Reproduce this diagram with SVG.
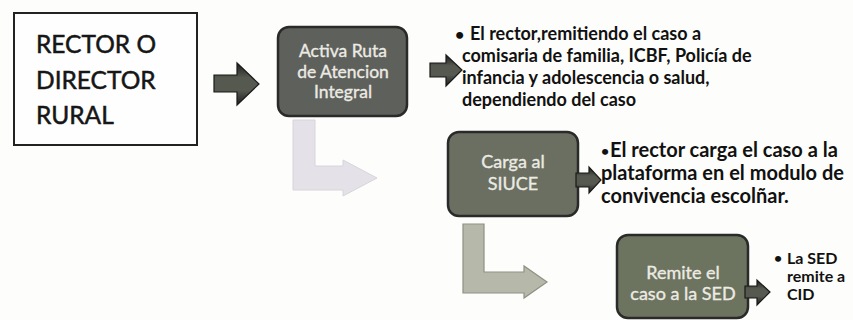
<svg xmlns="http://www.w3.org/2000/svg" width="853" height="320" viewBox="0 0 853 320">
<defs>
<style>
.t{font-family:Lato,"Liberation Sans",sans-serif;}
.big{font-size:24.5px;fill:#161616;stroke:#161616;stroke-width:0.5;}
.nodeT{font-size:17.5px;fill:#ecebe4;stroke:#ecebe4;stroke-width:0.35;text-anchor:middle;}
.bul{font-weight:bold;fill:#111;}
.dark{fill:url(#ag);stroke:#1a1a1a;stroke-width:1.2;stroke-linejoin:miter;}
</style>
<linearGradient id="ag" x1="0" y1="0" x2="0" y2="1">
<stop offset="0" stop-color="#1e1e1e"/>
<stop offset="0.35" stop-color="#55594f"/>
<stop offset="0.65" stop-color="#55594f"/>
<stop offset="1" stop-color="#1e1e1e"/>
</linearGradient>
</defs>
<rect width="853" height="320" fill="#fdfdfb"/>

<g id="rector">
<rect x="14" y="13" width="183" height="132" fill="#fefefe" stroke="#222" stroke-width="2"/>
<text class="t big" x="36" y="53">RECTOR O</text>
<text class="t big" x="36" y="89">DIRECTOR</text>
<text class="t big" x="36" y="124">RURAL</text>
</g>

<g id="activa">
<rect x="278" y="27" width="129" height="89" rx="11" fill="#5e605b" stroke="#2a2a2a" stroke-width="2.5"/>
<text class="t nodeT" x="343" y="57">Activa Ruta</text>
<text class="t nodeT" x="343" y="78">de Atencion</text>
<text class="t nodeT" x="343" y="98">Integral</text>
</g>

<g id="carga">
<rect x="448" y="132" width="130" height="84" rx="11" fill="#6b6f61" stroke="#2a2a2a" stroke-width="2.5"/>
<text class="t nodeT" x="513" y="168" style="font-size:18px">Carga al</text>
<text class="t nodeT" x="513" y="190" style="font-size:18px">SIUCE</text>
</g>

<g id="remite">
<rect x="617" y="235" width="131" height="83" rx="11" fill="#6c735f" stroke="#2a2a2a" stroke-width="2.5"/>
<text class="t nodeT" x="683" y="279" style="font-size:18px">Remite el</text>
<text class="t nodeT" x="683" y="300" style="font-size:18px">caso a la SED</text>
</g>

<g id="texto-activa">
<text class="t bul" x="455" y="40" style="font-size:16px">•</text>
<text class="t bul" x="470" y="40" style="font-size:18px">El rector,remitiendo el caso a</text>
<text class="t bul" x="462" y="62" style="font-size:18px">comisaria de familia, ICBF, Policía de</text>
<text class="t bul" x="462" y="84" style="font-size:18px">infancia y adolescencia o salud,</text>
<text class="t bul" x="462" y="106" style="font-size:18px">dependiendo del caso</text>
</g>

<g id="texto-carga">
<text class="t bul" x="601" y="156" style="font-size:14px">•</text>
<text class="t bul" x="610" y="157" style="font-size:20px">El rector carga el caso a la</text>
<text class="t bul" x="601" y="180" style="font-size:20px">plataforma en el modulo de</text>
<text class="t bul" x="601" y="203" style="font-size:20px">convivencia escolñar.</text>
</g>

<g id="texto-remite">
<text class="t bul" x="774" y="263" style="font-size:14px">•</text>
<text class="t bul" x="787" y="264" style="font-size:16px">La SED</text>
<text class="t bul" x="787" y="282" style="font-size:16px">remite a</text>
<text class="t bul" x="787" y="300" style="font-size:16px">CID</text>
</g>

<g id="connectors">
<path class="dark" d="M214 75 H237 V63 L259 84 L237 105 V92 H214 Z"/>
<path class="dark" d="M430 63 H446 V55 L462 70 L446 86 V77 H430 Z"/>
<path class="dark" d="M576 173 H589 V167 L601 180 L589 193 V187 H576 Z"/>
<path class="dark" d="M745 286 H757 V280 L770 292 L757 305 V298 H745 Z"/>
<path d="M293 120 H315 V166 H343 V160 L377 178 L343 196 V190 H293 Z" fill="#e5e1e8" stroke="#d8d4da" stroke-width="1"/>
<path d="M463 224 H484 V272 H524 V266 L547 282 L524 298 V293 H463 Z" fill="#b6b9aa" stroke="#8e9183" stroke-width="1.2"/>
</g>
</svg>
